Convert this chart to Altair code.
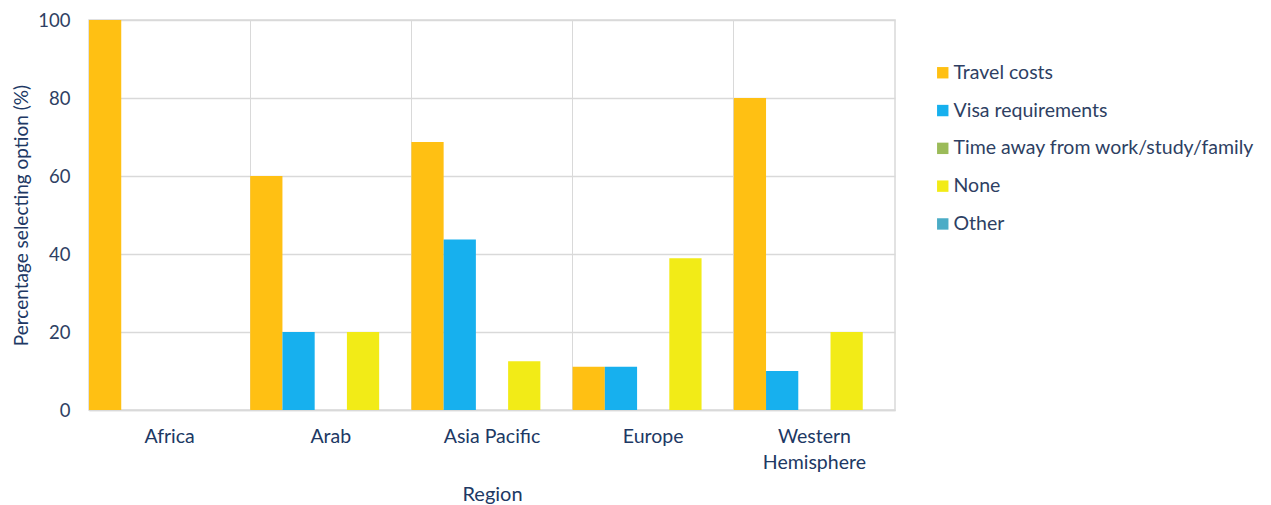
import altair as alt
import pandas as pd

regions = ["Africa", "Arab", "Asia Pacific", "Europe", "Western Hemisphere"]
series = ["Travel costs", "Visa requirements", "Time away from work/study/family", "None", "Other"]
colors = ["#FFC013", "#17B0EE", "#9BBB59", "#F2EB17", "#4BACC6"]

travel_costs = [100, 60, 68.75, 11.1, 80]
visa_requirements = [0, 20, 43.75, 11.1, 10]
time_away = [0, 0, 0, 0, 0]
none_vals = [0, 20, 12.5, 38.9, 20]
other_vals = [0, 0, 0, 0, 0]

rows = []
for s, vals in zip(series, [travel_costs, visa_requirements, time_away, none_vals, other_vals]):
    for r, v in zip(regions, vals):
        rows.append({"Region": r, "Series": s, "Value": v})
df = pd.DataFrame(rows)

TXT = "#203864"
FONT = "Lato"

chart = alt.Chart(df).mark_bar().encode(
    x=alt.X("Region:N", sort=regions,
            scale=alt.Scale(paddingInner=0, paddingOuter=0),
            axis=alt.Axis(title="Region", labelAngle=0, ticks=False,
                          grid=True, bandPosition=0, gridColor="#d9d9d9",
                          domainColor="#d9d9d9", domainWidth=1.5,
                          labelFont=FONT, labelFontSize=19.5, labelColor=TXT,
                          labelPadding=17, labelLineHeight=26,
                          labelExpr="datum.label == 'Western Hemisphere' ? ['Western', 'Hemisphere'] : datum.label",
                          titleFont=FONT, titleFontSize=20, titleColor=TXT, titleFontWeight="normal",
                          titleY=84, titleBaseline="middle")),
    xOffset=alt.XOffset("Series:N", sort=series,
                        scale=alt.Scale(domain=series, paddingInner=0, paddingOuter=0)),
    y=alt.Y("Value:Q",
            scale=alt.Scale(domain=[0, 100], nice=False),
            axis=alt.Axis(title="Percentage selecting option (%)", values=[0, 20, 40, 60, 80, 100],
                          ticks=False, domain=False, gridColor="#d9d9d9", gridWidth=1.5,
                          labelFont=FONT, labelFontSize=18.5, labelColor="#2E3F63",
                          labelPadding=19,
                          titleFont=FONT, titleFontSize=19, titleColor=TXT, titleFontWeight="normal",
                          titleX=-68, titleBaseline="middle")),
    color=alt.Color("Series:N", sort=series,
                    scale=alt.Scale(domain=series, range=colors),
                    legend=alt.Legend(title=None, orient="none", legendX=844, legendY=43,
                                      symbolType="square", symbolSize=130, symbolStrokeWidth=0,
                                      labelFont=FONT, labelFontSize=19.5, labelColor="#2E3F63",
                                      labelOffset=1, labelLimit=0, rowPadding=16.8, padding=0)),
).properties(
    width=806, height=390,
    autosize=alt.AutoSizeParams(type="none"),
    padding={"left": 81, "top": 12, "right": 366, "bottom": 95},
).configure_view(stroke="#d9d9d9", strokeWidth=1.5)

chart.save("out.html", embed_options={"renderer": "svg", "actions": False})
